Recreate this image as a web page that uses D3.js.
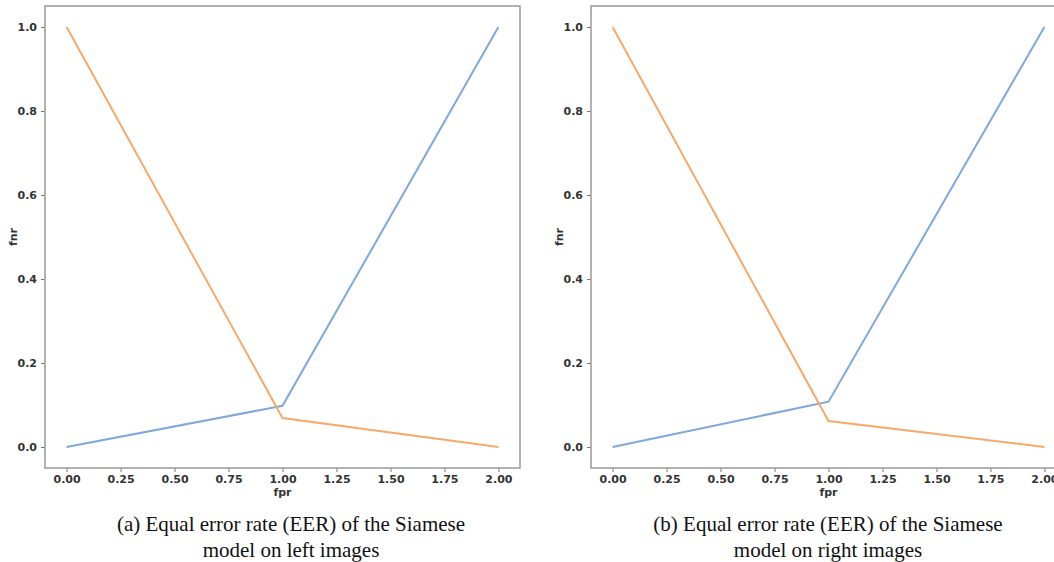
<!DOCTYPE html>
<html lang="en">
<head>
  <meta charset="UTF-8">
  <title>EER plots</title>
  <script src="https://d3js.org/d3.v7.min.js"></script>
  <style>
    body { margin: 0; background: white; overflow: hidden; }
    svg { display: block; }
    .tick text { font-family: "DejaVu Sans", sans-serif; font-size: 11px; font-weight: bold; fill: #333; }
    .axlabel { font-family: "DejaVu Sans", sans-serif; font-size: 11px; font-weight: bold; fill: #333; }
    .caption { font-family: "Liberation Serif", "Times New Roman", serif; font-size: 21px; fill: #111; }
  </style>
</head>
<body>
<svg width="1054" height="562"></svg>
<script>
  // data
  const fprX = [0, 1, 2];
  const leftFpr = [0, 0.098, 1];
  const leftFnr = [1, 0.069, 0];
  const rightFpr = [0, 0.108, 1];
  const rightFnr = [1, 0.062, 0];
  const xTicks = [0, 0.25, 0.5, 0.75, 1, 1.25, 1.5, 1.75, 2];
  const yTicks = [0, 0.2, 0.4, 0.6, 0.8, 1];
  const captions = [
    ["(a) Equal error rate (EER) of the Siamese", "model on left images"],
    ["(b) Equal error rate (EER) of the Siamese", "model on right images"]
  ];

  const svg = d3.select("svg");
  const blue = "#7ea8dd", orange = "#f6a96a";

  const panels = [
    { left: 45, right: 520, fpr: leftFpr, fnr: leftFnr, cap: captions[0], cx: 291 },
    { left: 591, right: 1066, fpr: rightFpr, fnr: rightFnr, cap: captions[1], cx: 828 }
  ];
  const plotTop = 6, plotBottom = 468;

  panels.forEach(p => {
    const x = d3.scaleLinear().domain([-0.1, 2.1]).range([p.left, p.right]);
    const y = d3.scaleLinear().domain([-0.05, 1.05]).range([plotBottom, plotTop]);
    const g = svg.append("g");

    const xAxis = g.append("g").attr("transform", `translate(0,${plotBottom})`)
      .call(d3.axisBottom(x).tickValues(xTicks).tickFormat(d3.format(".2f")).tickSize(4).tickPadding(3));
    const yAxis = g.append("g").attr("transform", `translate(${p.left},0)`)
      .call(d3.axisLeft(y).tickValues(yTicks).tickFormat(d3.format(".1f")).tickSize(4).tickPadding(4));
    [xAxis, yAxis].forEach(a => {
      a.select(".domain").remove();
      a.selectAll(".tick line").attr("stroke", "#777");
    });

    g.append("rect")
      .attr("x", p.left).attr("y", plotTop)
      .attr("width", p.right - p.left).attr("height", plotBottom - plotTop)
      .attr("fill", "none").attr("stroke", "#999").attr("stroke-width", 1.5);

    const line = d3.line().x((d, i) => x(fprX[i])).y(d => y(d));
    g.append("path").datum(p.fpr).attr("d", line)
      .attr("fill", "none").attr("stroke", blue).attr("stroke-width", 2);
    g.append("path").datum(p.fnr).attr("d", line)
      .attr("fill", "none").attr("stroke", orange).attr("stroke-width", 2);

    g.append("text").attr("class", "axlabel")
      .attr("x", x(1)).attr("y", 496)
      .attr("text-anchor", "middle").text("fpr");
    g.append("text").attr("class", "axlabel")
      .attr("transform", `translate(${p.left - 28},${y(0.5)}) rotate(-90)`)
      .attr("text-anchor", "middle").text("fnr");

    g.append("text").attr("class", "caption")
      .attr("x", p.cx).attr("y", 531).attr("text-anchor", "middle").text(p.cap[0]);
    g.append("text").attr("class", "caption")
      .attr("x", p.cx).attr("y", 557).attr("text-anchor", "middle").text(p.cap[1]);
  });
</script>
</body>
</html>
